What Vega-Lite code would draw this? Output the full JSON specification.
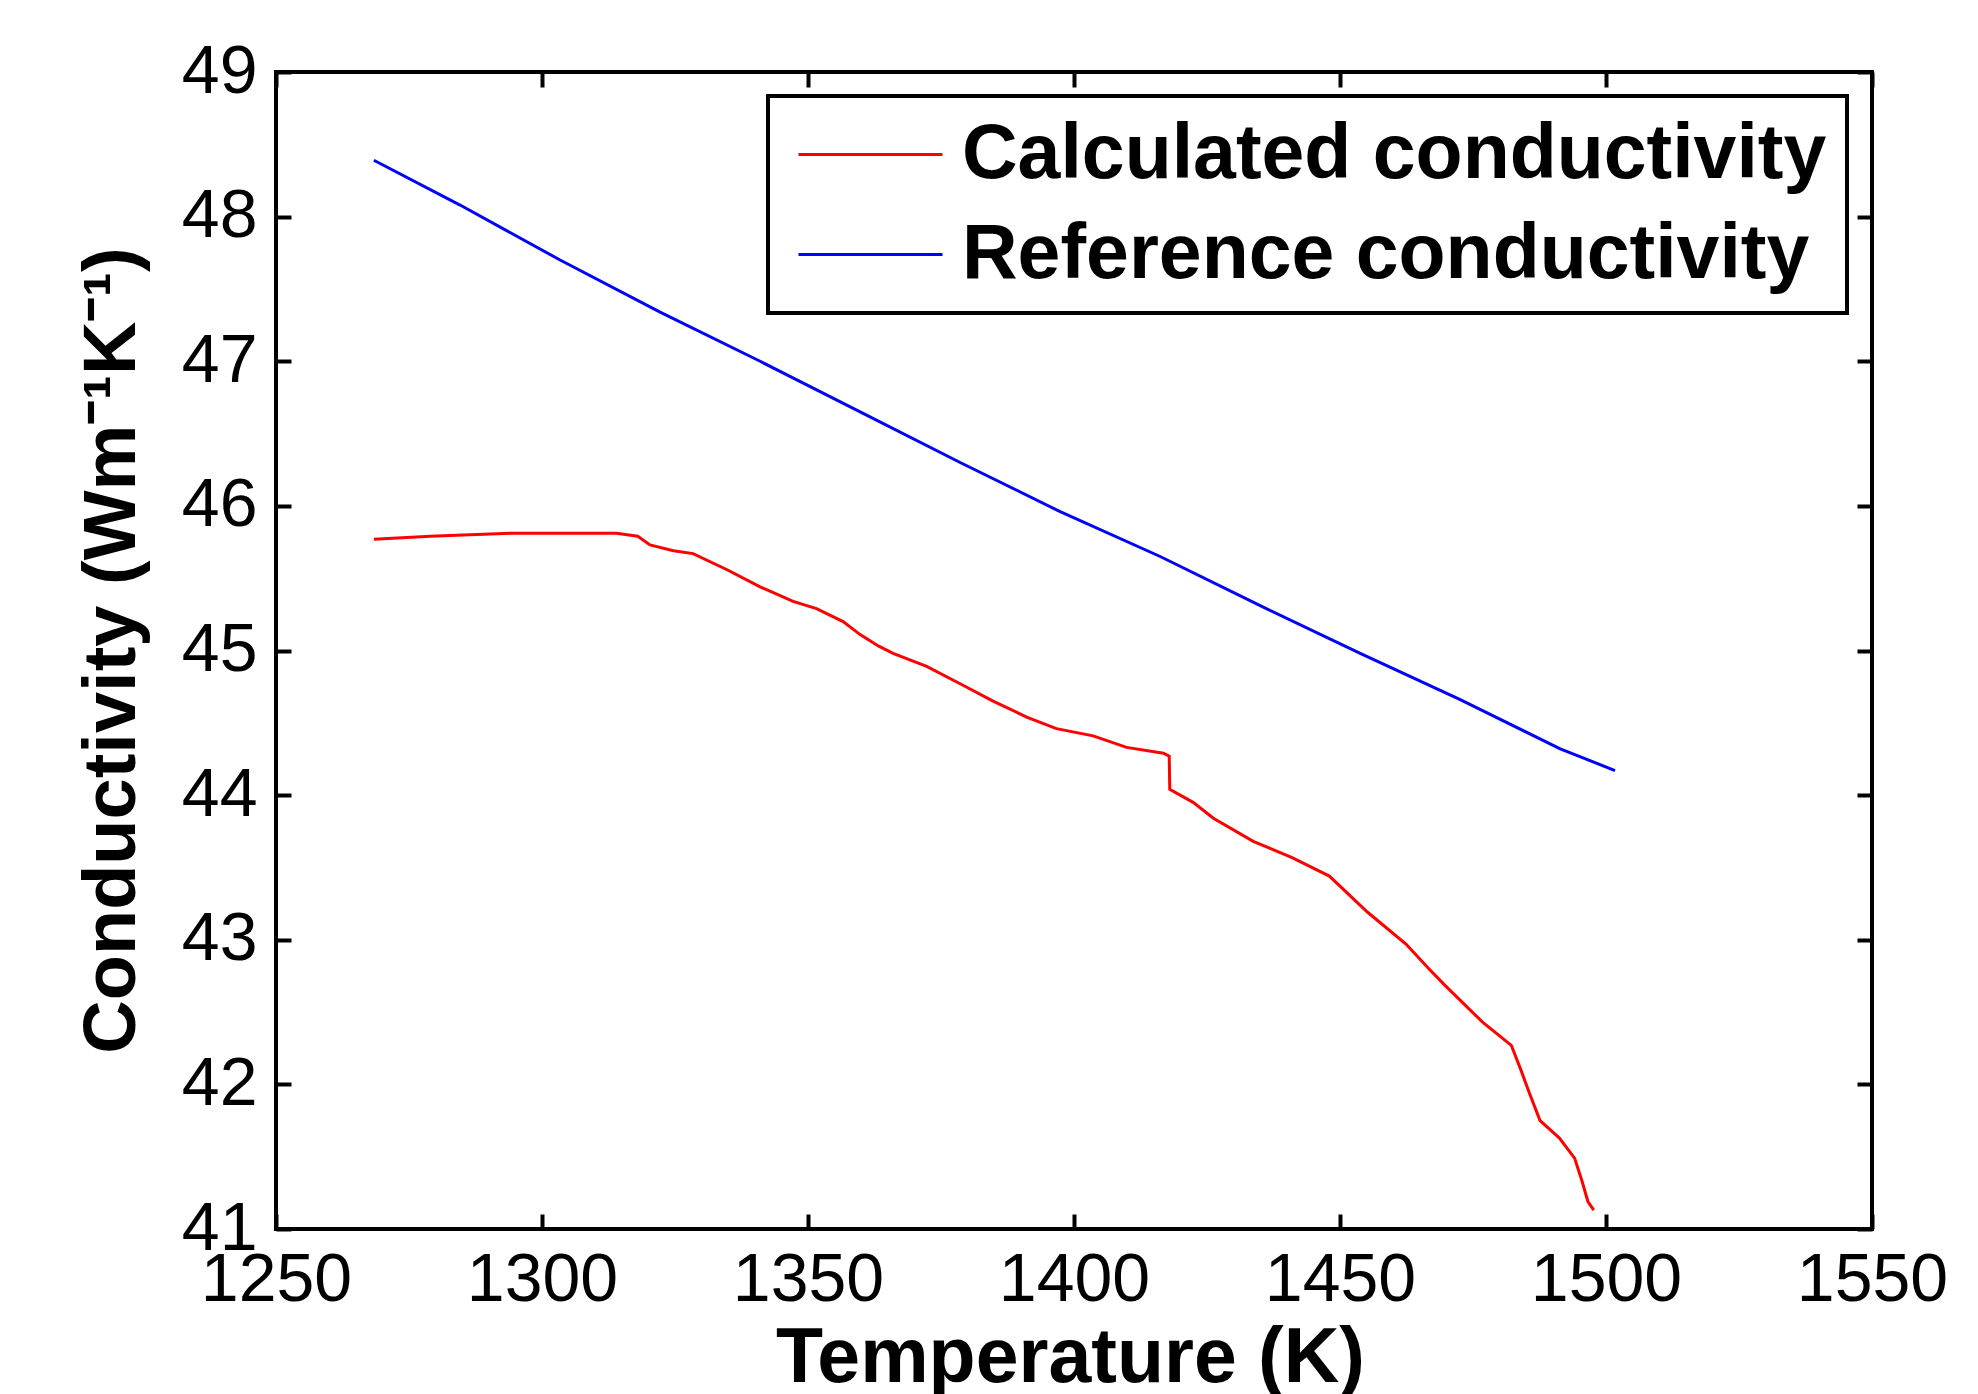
{
  "$schema": "https://vega.github.io/schema/vega-lite/v6.json",
  "width": 1596,
  "height": 1157,
  "autosize": {"type": "none"},
  "padding": {"left": 276, "top": 72, "right": 106, "bottom": 165},
  "background": "white",
  "data": {
    "values": [
      {"T": 1268.4, "k": 45.77, "series": "Calculated conductivity"},
      {"T": 1279.0, "k": 45.79, "series": "Calculated conductivity"},
      {"T": 1294.0, "k": 45.81, "series": "Calculated conductivity"},
      {"T": 1314.0, "k": 45.81, "series": "Calculated conductivity"},
      {"T": 1318.0, "k": 45.79, "series": "Calculated conductivity"},
      {"T": 1320.3, "k": 45.73, "series": "Calculated conductivity"},
      {"T": 1324.7, "k": 45.69, "series": "Calculated conductivity"},
      {"T": 1328.4, "k": 45.67, "series": "Calculated conductivity"},
      {"T": 1334.7, "k": 45.56, "series": "Calculated conductivity"},
      {"T": 1341.0, "k": 45.44, "series": "Calculated conductivity"},
      {"T": 1347.2, "k": 45.34, "series": "Calculated conductivity"},
      {"T": 1351.6, "k": 45.29, "series": "Calculated conductivity"},
      {"T": 1356.6, "k": 45.20, "series": "Calculated conductivity"},
      {"T": 1359.8, "k": 45.11, "series": "Calculated conductivity"},
      {"T": 1363.3, "k": 45.03, "series": "Calculated conductivity"},
      {"T": 1366.0, "k": 44.98, "series": "Calculated conductivity"},
      {"T": 1372.3, "k": 44.89, "series": "Calculated conductivity"},
      {"T": 1378.6, "k": 44.77, "series": "Calculated conductivity"},
      {"T": 1384.8, "k": 44.65, "series": "Calculated conductivity"},
      {"T": 1391.1, "k": 44.54, "series": "Calculated conductivity"},
      {"T": 1396.7, "k": 44.46, "series": "Calculated conductivity"},
      {"T": 1403.6, "k": 44.41, "series": "Calculated conductivity"},
      {"T": 1409.9, "k": 44.33, "series": "Calculated conductivity"},
      {"T": 1416.8, "k": 44.29, "series": "Calculated conductivity"},
      {"T": 1417.9, "k": 44.27, "series": "Calculated conductivity"},
      {"T": 1418.0, "k": 44.04, "series": "Calculated conductivity"},
      {"T": 1422.4, "k": 43.95, "series": "Calculated conductivity"},
      {"T": 1426.2, "k": 43.84, "series": "Calculated conductivity"},
      {"T": 1433.7, "k": 43.68, "series": "Calculated conductivity"},
      {"T": 1440.9, "k": 43.57, "series": "Calculated conductivity"},
      {"T": 1448.0, "k": 43.44, "series": "Calculated conductivity"},
      {"T": 1455.2, "k": 43.19, "series": "Calculated conductivity"},
      {"T": 1462.4, "k": 42.97, "series": "Calculated conductivity"},
      {"T": 1466.7, "k": 42.80, "series": "Calculated conductivity"},
      {"T": 1469.6, "k": 42.69, "series": "Calculated conductivity"},
      {"T": 1476.8, "k": 42.43, "series": "Calculated conductivity"},
      {"T": 1482.2, "k": 42.27, "series": "Calculated conductivity"},
      {"T": 1484.0, "k": 42.10, "series": "Calculated conductivity"},
      {"T": 1485.4, "k": 41.96, "series": "Calculated conductivity"},
      {"T": 1487.6, "k": 41.75, "series": "Calculated conductivity"},
      {"T": 1491.2, "k": 41.63, "series": "Calculated conductivity"},
      {"T": 1494.1, "k": 41.49, "series": "Calculated conductivity"},
      {"T": 1495.5, "k": 41.33, "series": "Calculated conductivity"},
      {"T": 1496.6, "k": 41.19, "series": "Calculated conductivity"},
      {"T": 1497.7, "k": 41.13, "series": "Calculated conductivity"},
      {"T": 1268.4, "k": 48.39, "series": "Reference conductivity"},
      {"T": 1284.6, "k": 48.08, "series": "Reference conductivity"},
      {"T": 1303.4, "k": 47.70, "series": "Reference conductivity"},
      {"T": 1322.2, "k": 47.34, "series": "Reference conductivity"},
      {"T": 1341.0, "k": 47.00, "series": "Reference conductivity"},
      {"T": 1359.8, "k": 46.65, "series": "Reference conductivity"},
      {"T": 1378.6, "k": 46.30, "series": "Reference conductivity"},
      {"T": 1397.4, "k": 45.96, "series": "Reference conductivity"},
      {"T": 1416.2, "k": 45.65, "series": "Reference conductivity"},
      {"T": 1435.0, "k": 45.31, "series": "Reference conductivity"},
      {"T": 1453.8, "k": 44.98, "series": "Reference conductivity"},
      {"T": 1472.6, "k": 44.66, "series": "Reference conductivity"},
      {"T": 1491.4, "k": 44.32, "series": "Reference conductivity"},
      {"T": 1501.7, "k": 44.17, "series": "Reference conductivity"}
    ]
  },
  "layer": [
    {
      "mark": {"type": "line", "strokeWidth": 3, "clip": true},
      "encoding": {
        "x": {
          "field": "T", "type": "quantitative",
          "scale": {"domain": [1250, 1550], "nice": false, "zero": false},
          "axis": {
            "orient": "bottom",
            "title": "Temperature (K)",
            "format": "d",
            "values": [1250, 1300, 1350, 1400, 1450, 1500, 1550],
            "labelPadding": 32,
            "titleX": 794,
            "titleY": 152,
            "titleBaseline": "alphabetic",
            "titleAlign": "center"
          }
        },
        "y": {
          "field": "k", "type": "quantitative",
          "scale": {"domain": [41, 49], "nice": false, "zero": false},
          "axis": {
            "orient": "left",
            "title": "Conductivity (Wm⁻¹K⁻¹)",
            "format": "d",
            "values": [41, 42, 43, 44, 45, 46, 47, 48, 49],
            "labelPadding": 34,
            "titleAngle": -90,
            "titleX": -142,
            "titleY": 578,
            "titleFontSize": 74,
            "titleBaseline": "alphabetic",
            "titleAlign": "center"
          }
        },
        "color": {
          "field": "series", "type": "nominal",
          "scale": {"domain": ["Calculated conductivity", "Reference conductivity"], "range": ["#ff0000", "#0000ff"]},
          "legend": {"orient": "none", "legendX": 492, "legendY": 24, "title": null}
        }
      }
    },
    {
      "mark": {"type": "line", "opacity": 0},
      "encoding": {
        "x": {
          "field": "T", "type": "quantitative",
          "axis": {"orient": "top", "labels": false, "title": null, "values": [1250, 1300, 1350, 1400, 1450, 1500, 1550]}
        },
        "y": {
          "field": "k", "type": "quantitative",
          "axis": {"orient": "right", "labels": false, "title": null, "values": [41, 42, 43, 44, 45, 46, 47, 48, 49]}
        }
      }
    }
  ],
  "config": {
    "view": {"stroke": "black", "strokeWidth": 4},
    "axis": {
      "domain": false,
      "grid": false,
      "ticks": true,
      "tickSize": -15,
      "tickWidth": 4,
      "tickColor": "black",
      "labelFont": "Liberation Sans",
      "labelFontSize": 68,
      "labelColor": "black",
      "labelFlush": false,
      "labelOverlap": false,
      "labelBound": false,
      "titleFont": "Liberation Sans",
      "titleFontSize": 77,
      "titleFontWeight": "bold",
      "titleColor": "black"
    },
    "legend": {
      "strokeColor": "black",
      "strokeWidth": 4,
      "fillColor": "white",
      "padding": 20,
      "symbolType": "stroke",
      "symbolSize": 20736,
      "symbolStrokeWidth": 3,
      "symbolOffset": 9,
      "clipHeight": 77,
      "labelFont": "Liberation Sans",
      "labelFontSize": 77,
      "labelFontWeight": "bold",
      "labelColor": "black",
      "labelOffset": 18,
      "labelLimit": 0,
      "rowPadding": 22
    }
  }
}
